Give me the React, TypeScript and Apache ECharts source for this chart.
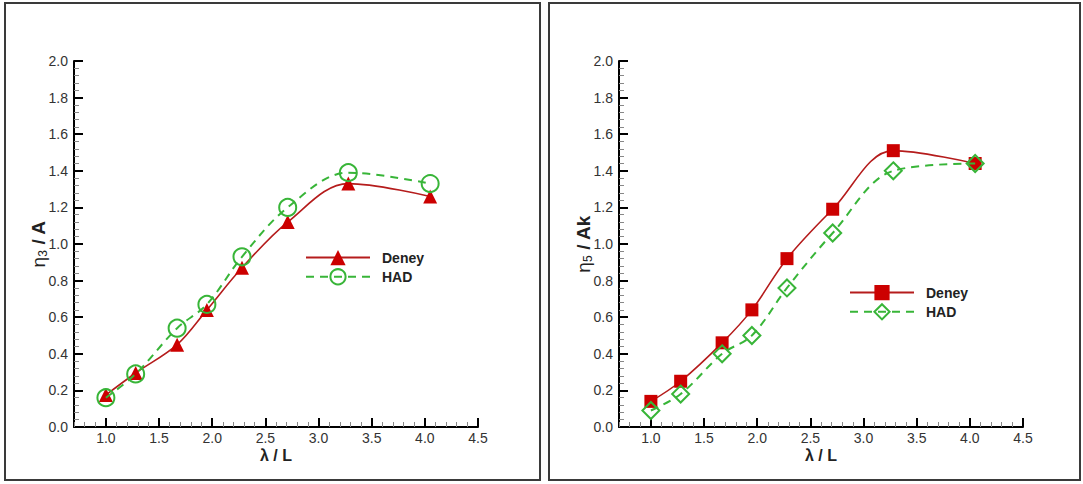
import React, { useEffect, useRef } from "react";
import * as echarts from "echarts";

// λ / L values (shared by both panels)
const lambdaL = [1.0, 1.28, 1.67, 1.95, 2.28, 2.71, 3.28, 4.05];
// Heave (η3 / A)
const heaveDeney = [0.175, 0.295, 0.45, 0.64, 0.87, 1.12, 1.33, 1.26];
const heaveHAD = [0.16, 0.29, 0.54, 0.67, 0.93, 1.2, 1.39, 1.33];
// Pitch (η5 / Ak)
const pitchDeney = [0.14, 0.25, 0.46, 0.64, 0.92, 1.19, 1.51, 1.44];
const pitchHAD = [0.09, 0.18, 0.4, 0.5, 0.76, 1.06, 1.4, 1.44];

const seriesNames = ["Deney", "HAD"];
const xMajorTicks = [1.0, 1.5, 2.0, 2.5, 3.0, 3.5, 4.0, 4.5];
const xMin = 0.7;
const xMax = 4.5;
const yMin = 0;
const yMax = 2.0;
const yInterval = 0.2;

const FONT = "Arial, 'Liberation Sans', sans-serif";
const RED_LINE = "#b51c1c";
const RED_FILL = "#cc0000";
const GREEN = "#38b538";

function pairs(xs: number[], ys: number[]) {
  return xs.map((x, i) => [x, ys[i]]);
}

function makeOption(
  deney: number[],
  had: number[],
  deneySymbol: string,
  deneySize: number,
  hadSymbol: string,
  hadSize: number,
  sub: string,
  denom: string,
  legendLeft: number,
  legendTop: number,
  frame: { x: number; y: number; width: number; height: number }
) {
  return {
    animation: false,
    backgroundColor: "#ffffff",
    textStyle: { fontFamily: FONT },
    graphic: [
      {
        type: "rect",
        shape: frame,
        style: { fill: "none", stroke: "#3a3a3a", lineWidth: 2 },
        silent: true,
      },
    ],
    legend: {
      orient: "vertical",
      left: legendLeft,
      top: legendTop,
      padding: 0,
      itemWidth: 64,
      itemHeight: 19,
      itemGap: 3,
      data: seriesNames,
      textStyle: {
        fontFamily: FONT,
        fontWeight: "bold",
        fontSize: 14,
        color: "#222",
        padding: [0, 0, 0, 7],
      },
    },
    grid: { left: 74, top: 61, width: 404, height: 366, containLabel: false },
    xAxis: [
      {
        type: "value",
        min: xMin,
        max: xMax,
        interval: 0.1,
        axisLine: { show: true, lineStyle: { color: "#000", width: 2 } },
        axisTick: { show: true, inside: true, length: 5, lineStyle: { color: "#888", width: 1 } },
        axisLabel: { show: false },
        splitLine: { show: false },
      },
      {
        type: "value",
        position: "bottom",
        min: xMin,
        max: xMax,
        axisLine: { show: false },
        axisTick: {
          show: true,
          inside: true,
          length: 9,
          customValues: xMajorTicks,
          lineStyle: { color: "#000", width: 2 },
        },
        axisLabel: {
          show: true,
          customValues: xMajorTicks,
          formatter: (v: number) => v.toFixed(1),
          fontFamily: FONT,
          fontSize: 14,
          color: "#333",
          margin: 4,
        },
        splitLine: { show: false },
        name: "λ / L",
        nameLocation: "middle",
        nameGap: 20,
        nameMoveOverlap: false,
        nameTextStyle: { fontFamily: FONT, fontSize: 16, fontWeight: "bold", color: "#222" },
      },
    ],
    yAxis: {
      type: "value",
      min: yMin,
      max: yMax,
      interval: yInterval,
      axisLine: { show: true, lineStyle: { color: "#000", width: 2 } },
      axisTick: { show: true, inside: true, length: 9, lineStyle: { color: "#000", width: 2 } },
      minorTick: { show: true, splitNumber: 5, length: 5, lineStyle: { color: "#888", width: 1 } },
      axisLabel: {
        formatter: (v: number) => v.toFixed(1),
        fontFamily: FONT,
        fontSize: 14,
        color: "#333",
        margin: 6,
      },
      splitLine: { show: false },
      name: `{eta|η}{sub|${sub}}{b| / ${denom}}`,
      nameLocation: "middle",
      nameGap: 25,
      nameMoveOverlap: false,
      nameRotate: 90,
      nameTextStyle: {
        rich: {
          eta: { fontFamily: FONT, fontSize: 19, color: "#222" },
          sub: { fontFamily: FONT, fontSize: 12, color: "#222", verticalAlign: "bottom", padding: [9, 0, 0, 0] },
          b: { fontFamily: FONT, fontSize: 19, fontWeight: "bold", color: "#222" },
        },
      },
    },
    series: [
      {
        name: seriesNames[0],
        type: "line",
        xAxisIndex: 0,
        data: pairs(lambdaL, deney),
        smooth: 0.35,
        symbol: deneySymbol,
        symbolSize: deneySize,
        lineStyle: { color: RED_LINE, width: 1.6 },
        itemStyle: { color: RED_FILL, borderColor: RED_FILL, borderWidth: 0 },
        z: 2,
      },
      {
        name: seriesNames[1],
        type: "line",
        xAxisIndex: 0,
        data: pairs(lambdaL, had),
        smooth: 0.35,
        symbol: hadSymbol,
        symbolSize: hadSize,
        lineStyle: { color: GREEN, width: 2, type: [8, 6] },
        itemStyle: { color: "rgba(255,255,255,0)", borderColor: GREEN, borderWidth: 2 },
        z: 3,
      },
    ],
  };
}

export default function App() {
  const leftRef = useRef<HTMLDivElement>(null);
  const rightRef = useRef<HTMLDivElement>(null);

  useEffect(() => {
    if (!leftRef.current || !rightRef.current) return;
    const left = echarts.init(leftRef.current, undefined, { renderer: "svg" });
    const right = echarts.init(rightRef.current, undefined, { renderer: "svg" });
    left.setOption(
      makeOption(heaveDeney, heaveHAD, "triangle", 14, "circle", 17, "3", "A", 305, 250, {
        x: 5,
        y: 3,
        width: 535,
        height: 477,
      }) as any
    );
    right.setOption(
      makeOption(pitchDeney, pitchHAD, "rect", 13, "diamond", 17, "5", "Ak", 304, 285, {
        x: 4,
        y: 3,
        width: 531,
        height: 477,
      }) as any
    );
    return () => {
      left.dispose();
      right.dispose();
    };
  }, []);

  return (
    <div style={{ position: "absolute", left: 0, top: 0, width: 1083, height: 484, background: "#fff" }}>
      <div ref={leftRef} style={{ position: "absolute", left: 0, top: 0, width: 545, height: 484 }} />
      <div ref={rightRef} style={{ position: "absolute", left: 545, top: 0, width: 538, height: 484 }} />
    </div>
  );
}
